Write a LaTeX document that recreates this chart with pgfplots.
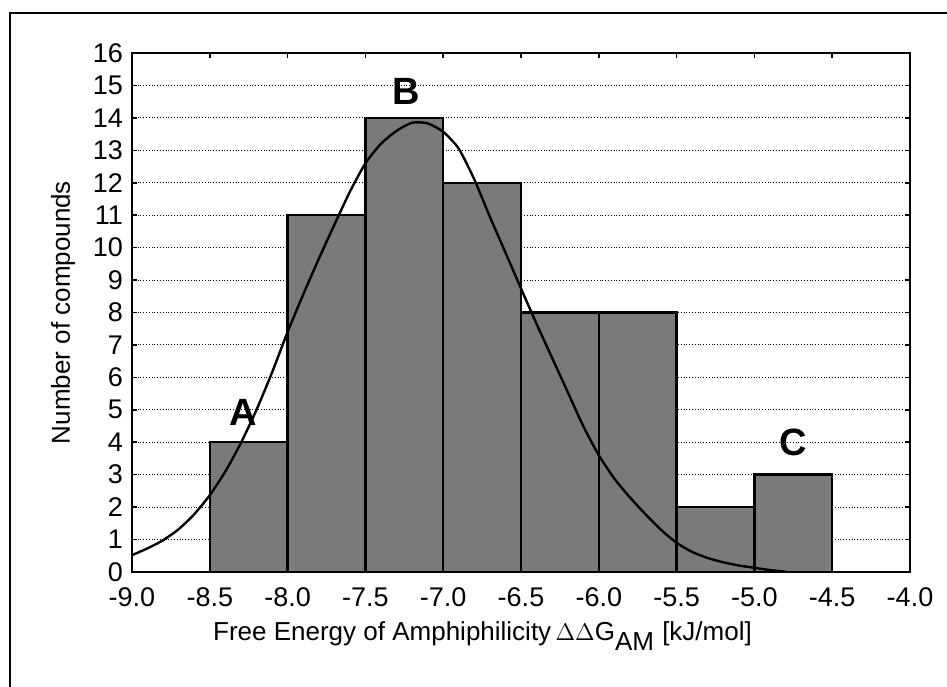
\documentclass[border=0pt]{standalone}
\usepackage{pgfplots}
\pgfplotsset{compat=1.18}
\usepackage{fontspec}
\setmainfont{Liberation Sans}
\definecolor{barfill}{RGB}{122,122,122}
\begin{document}
\begin{tikzpicture}
\useasboundingbox (-66pt,-57pt) rectangle (407.5pt,286pt);
\draw[line width=0.9pt] (-61pt,-70pt) rectangle (420pt,279.5pt);
\begin{axis}[
  at={(0,0)}, anchor=south west,
  width=389pt, height=259.5pt, scale only axis,
  xmin=-9, xmax=-4, ymin=0, ymax=16,
  xtick={-9,-8.5,-8,-7.5,-7,-6.5,-6,-5.5,-5,-4.5,-4},
  xticklabels={-9.0,-8.5,-8.0,-7.5,-7.0,-6.5,-6.0,-5.5,-5.0,-4.5,-4.0},
  ytick={0,1,...,16},
  /pgf/number format/assume math mode=true,
  tick label style={font=\fontsize{13.5}{15}\selectfont},
  xticklabel style={yshift=-4.5pt},
  yticklabel style={xshift=-1pt},
  tick align=inside,
  major tick length=2.5pt,
  tick style={black, line width=0.8pt},
  axis line style={line width=1pt},
  ymajorgrids,
  major grid style={black, densely dotted, line width=0.5pt},
  xlabel={Free Energy of Amphiphilicity\,$\Delta\Delta$G\textsubscript{\fontsize{13}{15}\selectfont AM} [kJ/mol]},
  ylabel={Number of compounds},
  label style={font=\fontsize{13}{15}\selectfont},
  xlabel style={at={(axis description cs:0.4505,-0.1329)}, anchor=base},
  ylabel style={at={(axis description cs:-0.0797,0.5)}, anchor=base},
  clip=false,
]
\addplot[ybar interval, fill=barfill, draw=black, line width=1.2pt]
  coordinates {(-8.5,4) (-8,11) (-7.5,14) (-7,12) (-6.5,8) (-6,8) (-5.5,2) (-5,3) (-4.5,3)};
\addplot[smooth, tension=0.4, black, line width=1.2pt] coordinates {
  (-9.0,0.52) (-8.9,0.73) (-8.8,0.98) (-8.7,1.32) (-8.6,1.78) (-8.5,2.37)
  (-8.4,3.1) (-8.3,3.98) (-8.2,5.0) (-8.1,6.15) (-8.0,7.4) (-7.9,8.55)
  (-7.8,9.65) (-7.7,10.7) (-7.6,11.72) (-7.5,12.6) (-7.4,13.2) (-7.3,13.6)
  (-7.2,13.85) (-7.1,13.83) (-7.0,13.57) (-6.9,13.05) (-6.8,12.1) (-6.7,10.95)
  (-6.6,9.85) (-6.5,8.74) (-6.4,7.65) (-6.3,6.6) (-6.2,5.55) (-6.1,4.5)
  (-6.0,3.6) (-5.9,2.88) (-5.8,2.3) (-5.7,1.78) (-5.6,1.3) (-5.5,0.9)
  (-5.4,0.62) (-5.3,0.43) (-5.2,0.3) (-5.1,0.2) (-5.0,0.13) (-4.9,0.06)
  (-4.8,0.01)};
\node[font=\fontsize{19}{21}\selectfont\bfseries] at (axis cs:-8.287,4.92) {A};
\node[font=\fontsize{19}{21}\selectfont\bfseries] at (axis cs:-7.235,14.82) {B};
\node[font=\fontsize{19}{21}\selectfont\bfseries] at (axis cs:-4.75,3.99) {C};
\end{axis}
\end{tikzpicture}
\end{document}
